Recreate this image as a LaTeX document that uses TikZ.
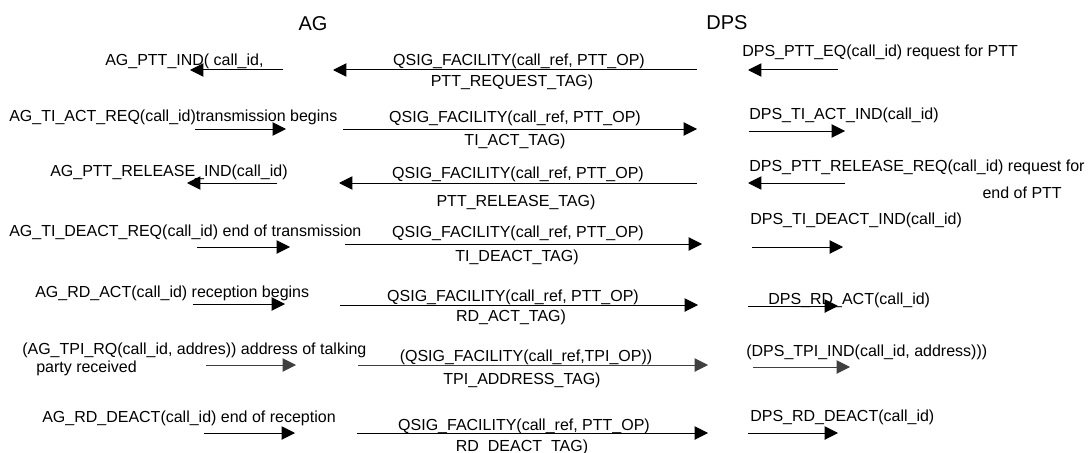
\documentclass[tikz,border=0pt]{standalone}
\usepackage{fontspec}
\setmainfont{Liberation Sans}
\usepackage{tikz}
\usetikzlibrary{arrows.meta}

\tikzset{
 msg/.style={line width=0.75pt,-{Triangle[length=10pt,width=10pt]}},
 grmsg/.style={msg,black!75},
 txt/.style={inner sep=0pt,font=\fontsize{12}{13.5}\selectfont},
 head/.style={inner sep=0pt,font=\fontsize{15}{17}\selectfont}
}

\begin{document}
\begin{tikzpicture}[x=0.75pt,y=-0.75pt]
 \useasboundingbox (0,0) rectangle (1088,453);
 \node[head] (ag) at (313,24) {AG};
 \node[head] (dps) at (727,23) {DPS};

 % PTT request
 \node[txt,anchor=west] (l1) at (105,61) {AG\_PTT\_IND( call\_id,};
 \coordinate (l1s) at (283,70); \coordinate (l1e) at (190,70);
 \draw[msg] (l1s) -- (l1e);
 \node[txt] (m1a) at (519,61) {QSIG\_FACILITY(call\_ref, PTT\_OP)};
 \node[txt] (m1b) at (512,82) {PTT\_REQUEST\_TAG)};
 \coordinate (m1s) at (697,70); \coordinate (m1e) at (333,70);
 \draw[msg] (m1s) -- (m1e);
 \node[txt,anchor=west] (r1) at (742,52) {DPS\_PTT\_EQ(call\_id) request for PTT};
 \coordinate (r1s) at (838,70); \coordinate (r1e) at (748,70);
 \draw[msg] (r1s) -- (r1e);

 % TI activation
 \node[txt,anchor=west] (l2) at (9,117) {AG\_TI\_ACT\_REQ(call\_id)transmission begins};
 \coordinate (l2s) at (195,129); \coordinate (l2e) at (286,129);
 \draw[msg] (l2s) -- (l2e);
 \node[txt] (m2a) at (515,118) {QSIG\_FACILITY(call\_ref, PTT\_OP)};
 \node[txt] (m2b) at (515,141) {TI\_ACT\_TAG)};
 \coordinate (m2s) at (343,129); \coordinate (m2e) at (697,129);
 \draw[msg] (m2s) -- (m2e);
 \node[txt,anchor=west] (r2) at (749,115) {DPS\_TI\_ACT\_IND(call\_id)};
 \coordinate (r2s) at (749,131); \coordinate (r2e) at (845,131);
 \draw[msg] (r2s) -- (r2e);

 % PTT release
 \node[txt,anchor=west] (l3) at (50,172) {AG\_PTT\_RELEASE\_IND(call\_id)};
 \coordinate (l3s) at (277,183); \coordinate (l3e) at (187,183);
 \draw[msg] (l3s) -- (l3e);
 \node[txt] (m3a) at (518,174) {QSIG\_FACILITY(call\_ref, PTT\_OP)};
 \node[txt] (m3b) at (516,202) {PTT\_RELEASE\_TAG)};
 \coordinate (m3s) at (697,183); \coordinate (m3e) at (339,183);
 \draw[msg] (m3s) -- (m3e);
 \node[txt,anchor=west] (r3a) at (749,167) {DPS\_PTT\_RELEASE\_REQ(call\_id) request for};
 \node[txt,anchor=east] (r3b) at (1062,193) {end of PTT};
 \coordinate (r3s) at (845,183); \coordinate (r3e) at (748,183);
 \draw[msg] (r3s) -- (r3e);

 % TI deactivation
 \node[txt,anchor=west] (l4) at (9,232) {AG\_TI\_DEACT\_REQ(call\_id) end of transmission};
 \coordinate (l4s) at (197,247); \coordinate (l4e) at (290,247);
 \draw[msg] (l4s) -- (l4e);
 \node[txt] (m4a) at (518,233) {QSIG\_FACILITY(call\_ref, PTT\_OP)};
 \node[txt] (m4b) at (517,257) {TI\_DEACT\_TAG)};
 \coordinate (m4s) at (345,244); \coordinate (m4e) at (702,244);
 \draw[msg] (m4s) -- (m4e);
 \node[txt,anchor=west] (r4) at (750,220) {DPS\_TI\_DEACT\_IND(call\_id)};
 \coordinate (r4s) at (752,247); \coordinate (r4e) at (843,247);
 \draw[msg] (r4s) -- (r4e);

 % RD activation
 \node[txt,anchor=west] (l5) at (35,293) {AG\_RD\_ACT(call\_id) reception begins};
 \coordinate (l5s) at (193,304); \coordinate (l5e) at (285,304);
 \draw[msg] (l5s) -- (l5e);
 \node[txt] (m5a) at (513,297) {QSIG\_FACILITY(call\_ref, PTT\_OP)};
 \node[txt] (m5b) at (511,317) {RD\_ACT\_TAG)};
 \coordinate (m5s) at (340,305); \coordinate (m5e) at (698,305);
 \draw[msg] (m5s) -- (m5e);
 \node[txt,anchor=west] (r5) at (768,300) {DPS\_RD\_ACT(call\_id)};
 \coordinate (r5s) at (748,306); \coordinate (r5e) at (838,306);
 \draw[msg] (r5s) -- (r5e);

 % talking party address
 \node[txt,anchor=west] (l6a) at (22,350) {(AG\_TPI\_RQ(call\_id, addres)) address of talking};
 \node[txt,anchor=west] (l6b) at (36,368) {party received};
 \coordinate (l6s) at (206,365); \coordinate (l6e) at (296,365);
 \draw[grmsg] (l6s) -- (l6e);
 \node[txt] (m6a) at (526,357) {(QSIG\_FACILITY(call\_ref,TPI\_OP))};
 \node[txt] (m6b) at (522,380) {TPI\_ADDRESS\_TAG)};
 \coordinate (m6s) at (358,365); \coordinate (m6e) at (708,365);
 \draw[grmsg] (m6s) -- (m6e);
 \node[txt,anchor=west] (r6) at (746,352) {(DPS\_TPI\_IND(call\_id, address)))};
 \coordinate (r6s) at (753,367); \coordinate (r6e) at (850,367);
 \draw[grmsg] (r6s) -- (r6e);

 % RD deactivation
 \node[txt,anchor=west] (l7) at (42,418) {AG\_RD\_DEACT(call\_id) end of reception};
 \coordinate (l7s) at (204,433); \coordinate (l7e) at (295,433);
 \draw[msg] (l7s) -- (l7e);
 \node[txt] (m7a) at (524,426) {QSIG\_FACILITY(call\_ref, PTT\_OP)};
 \node[txt] (m7b) at (522,447) {RD\_DEACT\_TAG)};
 \coordinate (m7s) at (357,433); \coordinate (m7e) at (708,433);
 \draw[msg] (m7s) -- (m7e);
 \node[txt,anchor=west] (r7) at (750,417) {DPS\_RD\_DEACT(call\_id)};
 \coordinate (r7s) at (748,433); \coordinate (r7e) at (838,433);
 \draw[msg] (r7s) -- (r7e);

\end{tikzpicture}
\end{document}
